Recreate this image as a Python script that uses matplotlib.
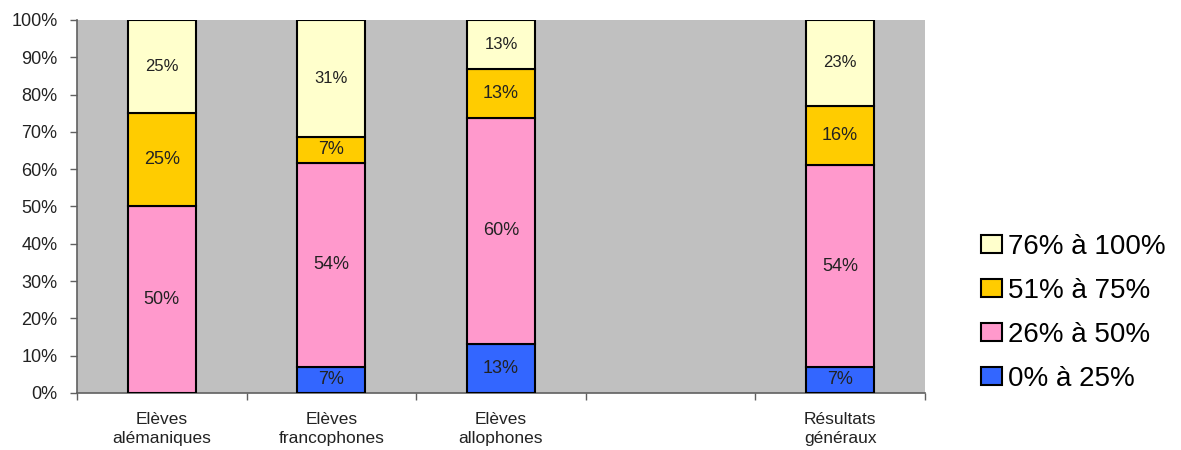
import matplotlib
matplotlib.use("Agg")
import matplotlib.pyplot as plt
from matplotlib.patches import Patch
import numpy as np

# Categories (the empty slot is a spacer column in the chart)
categories = ["Elèves\nalémaniques", "Elèves\nfrancophones", "Elèves\nallophones", "", "Résultats\ngénéraux"]

# Share of pupils per score band (percent)
band_0_25 = [0, 7, 13, None, 7]
band_26_50 = [50, 54, 60, None, 54]
band_51_75 = [25, 7, 13, None, 16]
band_76_100 = [25, 31, 13, None, 23]

series_names = ["0% à 25%", "26% à 50%", "51% à 75%", "76% à 100%"]
series_colors = ["#3366FF", "#FF99CC", "#FFCC00", "#FFFFCC"]
y_ticks = [0, 10, 20, 30, 40, 50, 60, 70, 80, 90, 100]

plt.rcParams["font.family"] = ["Liberation Sans", "DejaVu Sans"]

fig = plt.figure(figsize=(11.81, 4.50), dpi=100)
ax = fig.add_axes([0.0652, 0.1267, 0.7180, 0.8289])
ax.set_facecolor("#C0C0C0")

series = [band_0_25, band_26_50, band_51_75, band_76_100]
x = np.arange(len(categories))
bar_w = 0.4

for i in range(len(categories)):
    vals = [s[i] for s in series]
    if any(v is None for v in vals):
        continue
    total = sum(vals)
    bottom = 0.0
    for k, v in enumerate(vals):
        h = v / total * 100.0
        if v > 0:
            ax.bar(x[i], h, bar_w, bottom=bottom, color=series_colors[k],
                   edgecolor="black", linewidth=1.5, zorder=3)
            if k == 3:
                ax.text(x[i], bottom + h / 2, f"{v}%", ha="center", va="center",
                        fontsize=12, family=["Liberation Sans Narrow", "Liberation Sans"],
                        color="#222222", zorder=4)
            else:
                ax.text(x[i], bottom + h / 2, f"{v}%", ha="center", va="center",
                        fontsize=13, color="#222222", zorder=4)
        bottom += h

ax.set_xlim(-0.5, len(categories) - 0.5)
ax.set_ylim(0, 100)
ax.set_yticks(y_ticks)
ax.set_yticklabels([f"{t}%" for t in y_ticks], fontsize=13, color="#222222")
ax.set_xticks(x)
ax.set_xticklabels(categories, fontsize=12.5, linespacing=1.3, color="#222222")
ax.set_xticks(np.arange(-0.5, len(categories), 1.0), minor=True)
ax.tick_params(axis="x", which="major", length=0, pad=14)
ax.tick_params(axis="x", which="minor", length=5, width=1, color="#606060")
ax.tick_params(axis="y", length=5, width=1, color="#606060", pad=9)

for side in ("top", "right"):
    ax.spines[side].set_visible(False)
for side in ("left", "bottom"):
    ax.spines[side].set_color("#606060")
    ax.spines[side].set_linewidth(1.2)

handles = [Patch(facecolor=c, edgecolor="black", linewidth=1.5) for c in series_colors]
leg = fig.legend(handles[::-1], series_names[::-1], loc="upper left",
                 bbox_to_anchor=(0.8215, 0.505), frameon=False, fontsize=20,
                 handlelength=0.75, handleheight=0.6, handletextpad=0.2,
                 labelspacing=0.65, borderaxespad=0)

fig.savefig("out.png", dpi=100)
